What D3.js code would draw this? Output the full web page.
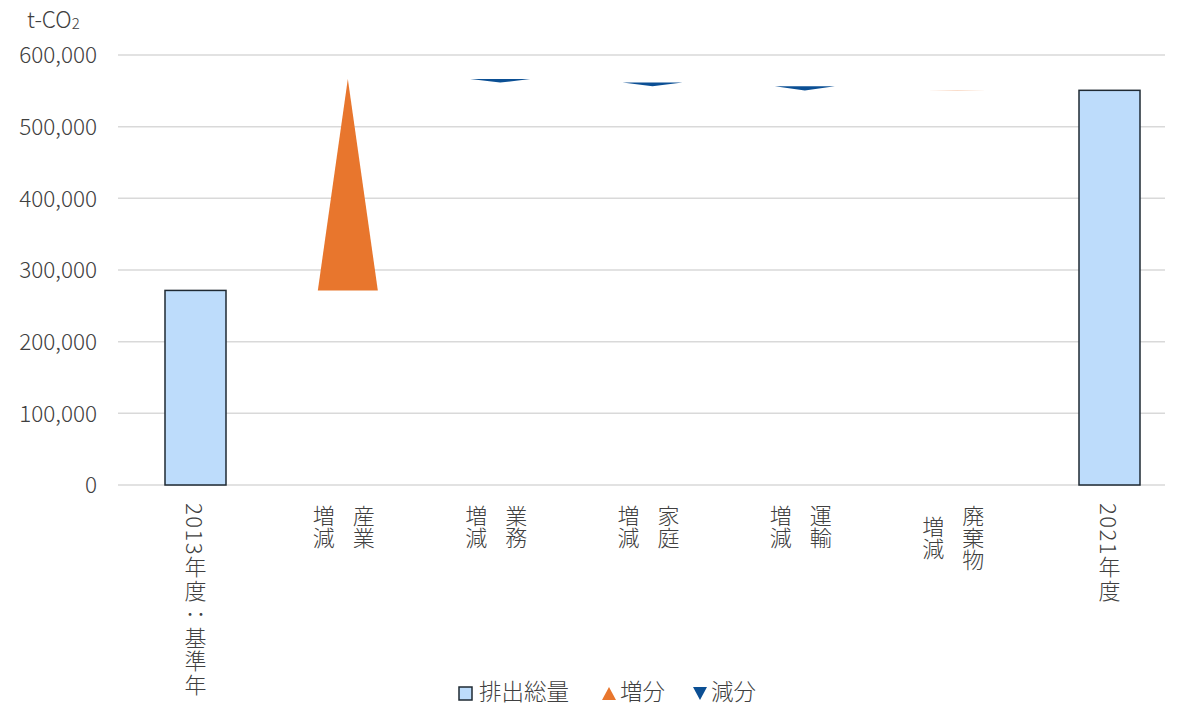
<!DOCTYPE html>
<html><head><meta charset="utf-8">
<script src="https://cdn.jsdelivr.net/npm/d3@7"></script>
<style>
html,body{margin:0;padding:0;background:#fff;}
#wrap{position:relative;width:1180px;height:707px;overflow:hidden;font-family:"Noto Sans CJK JP","Noto Sans",sans-serif;color:#404040;}
svg{position:absolute;left:0;top:0;}
.vl{position:absolute;writing-mode:vertical-rl;font-size:22px;line-height:24px;white-space:nowrap;color:#404040;letter-spacing:0px;font-weight:300;}
.vl.long{letter-spacing:1.5px;}
</style></head>
<body><div id="wrap"><svg id="chart" width="1180" height="707"></svg></div>
<script>
// ---- data ----
const categories = ["2013年度：基準年","産業増減","業務増減","家庭増減","運輸増減","廃棄物増減","2021年度"];
const kinds      = ["total","delta","delta","delta","delta","delta","total"];
const values     = [271500, 295000, -5000, -5000, -6000, 200, 550700];
const yTicks     = [0,100000,200000,300000,400000,500000,600000];
const legendLabels = ["排出総量","増分","減分"];
const unitLabel = "t-CO";

const FONT="'Noto Sans CJK JP','Noto Sans',sans-serif";
const svg=d3.select("#chart");
const y=d3.scaleLinear().domain([0,600000]).range([485,55]);
const x=d3.scalePoint().domain(categories).range([195.5,1109.5]);
const gridL=118, gridR=1165;

// gridlines
svg.append("g").selectAll("line").data(yTicks).join("line")
  .attr("x1",gridL).attr("x2",gridR).attr("y1",d=>y(d)).attr("y2",d=>y(d))
  .attr("stroke","#d9d9d9").attr("stroke-width",1.5);

// y axis labels
const yAxis=d3.axisLeft(y).tickValues(yTicks).tickFormat(d3.format(",")).tickSize(0).tickPadding(0);
const ga=svg.append("g").attr("transform","translate(97,0)").call(yAxis);
ga.select(".domain").remove();
ga.selectAll("text").attr("font-size",22.5).attr("fill","#404040").attr("font-weight",300)
  .attr("font-family",FONT).attr("dy","0.35em");

// unit label
const ut=svg.append("text").attr("x",27).attr("y",28).attr("font-size",22.5).attr("fill","#404040").attr("font-weight",300)
  .attr("font-family",FONT).text(unitLabel);
ut.append("tspan").attr("font-size",15).attr("dy",1).text("2");

// compute running levels
let level=0; const marks=[];
categories.forEach((c,i)=>{
  if(kinds[i]==="total"){ level=values[i]; marks.push({c,type:"total",v:values[i]}); }
  else { const s=level; level+=values[i]; marks.push({c,type:values[i]>=0?"up":"down",from:s,to:level}); }
});
const bw=61, tw=60;
svg.append("g").selectAll("rect").data(marks.filter(m=>m.type==="total")).join("rect")
  .attr("x",d=>x(d.c)-bw/2).attr("y",d=>y(d.v)).attr("width",bw).attr("height",d=>y(0)-y(d.v))
  .attr("fill","#bddcfb").attr("stroke","#1f2a33").attr("stroke-width",1.5);
svg.append("g").selectAll("path").data(marks.filter(m=>m.type!=="total")).join("path")
  .attr("d",d=>{const cx=x(d.c);return `M${cx-tw/2},${y(d.from)}L${cx+tw/2},${y(d.from)}L${cx},${y(d.to)}Z`;})
  .attr("fill",d=>d.type==="up"?"#e8762d":"#0b4f94");

// x labels (vertical)
const wrap=d3.select("#wrap");
const charH=22, labTop=505;
categories.forEach((c,i)=>{
  const cx=x(c);
  let cols;
  if(c.endsWith("増減")){ cols=[c.slice(0,-2),"増減"]; }
  else cols=[c];
  if(cols.length===1){
    wrap.append("div").attr("class","vl long").style("left",(cx-12)+"px").style("top",(labTop-2)+"px").text(c);
  } else {
    const maxLen=d3.max(cols,s=>s.length);
    const xs=[cx+16,cx-24];
    cols.forEach((s,k)=>{
      wrap.append("div").attr("class","vl").style("left",(xs[k]-12)+"px")
        .style("top",(labTop+(maxLen-s.length)*charH/2)+"px").text(s);
    });
  }
});

// legend
const lg=svg.append("g").attr("font-family",FONT).attr("font-size",22.5).attr("font-weight",300).attr("fill","#404040");
lg.append("rect").attr("x",459).attr("y",687).attr("width",13).attr("height",13).attr("fill","#bddcfb").attr("stroke","#1f2a33").attr("stroke-width",1.5);
lg.append("text").attr("x",479).attr("y",700).text(legendLabels[0]);
lg.append("path").attr("d","M602,700L616,700L609,687Z").attr("fill","#e8762d");
lg.append("text").attr("x",620).attr("y",700).text(legendLabels[1]);
lg.append("path").attr("d","M693,687L707,687L700,700Z").attr("fill","#0b4f94");
lg.append("text").attr("x",711).attr("y",700).text(legendLabels[2]);
</script></body></html>
